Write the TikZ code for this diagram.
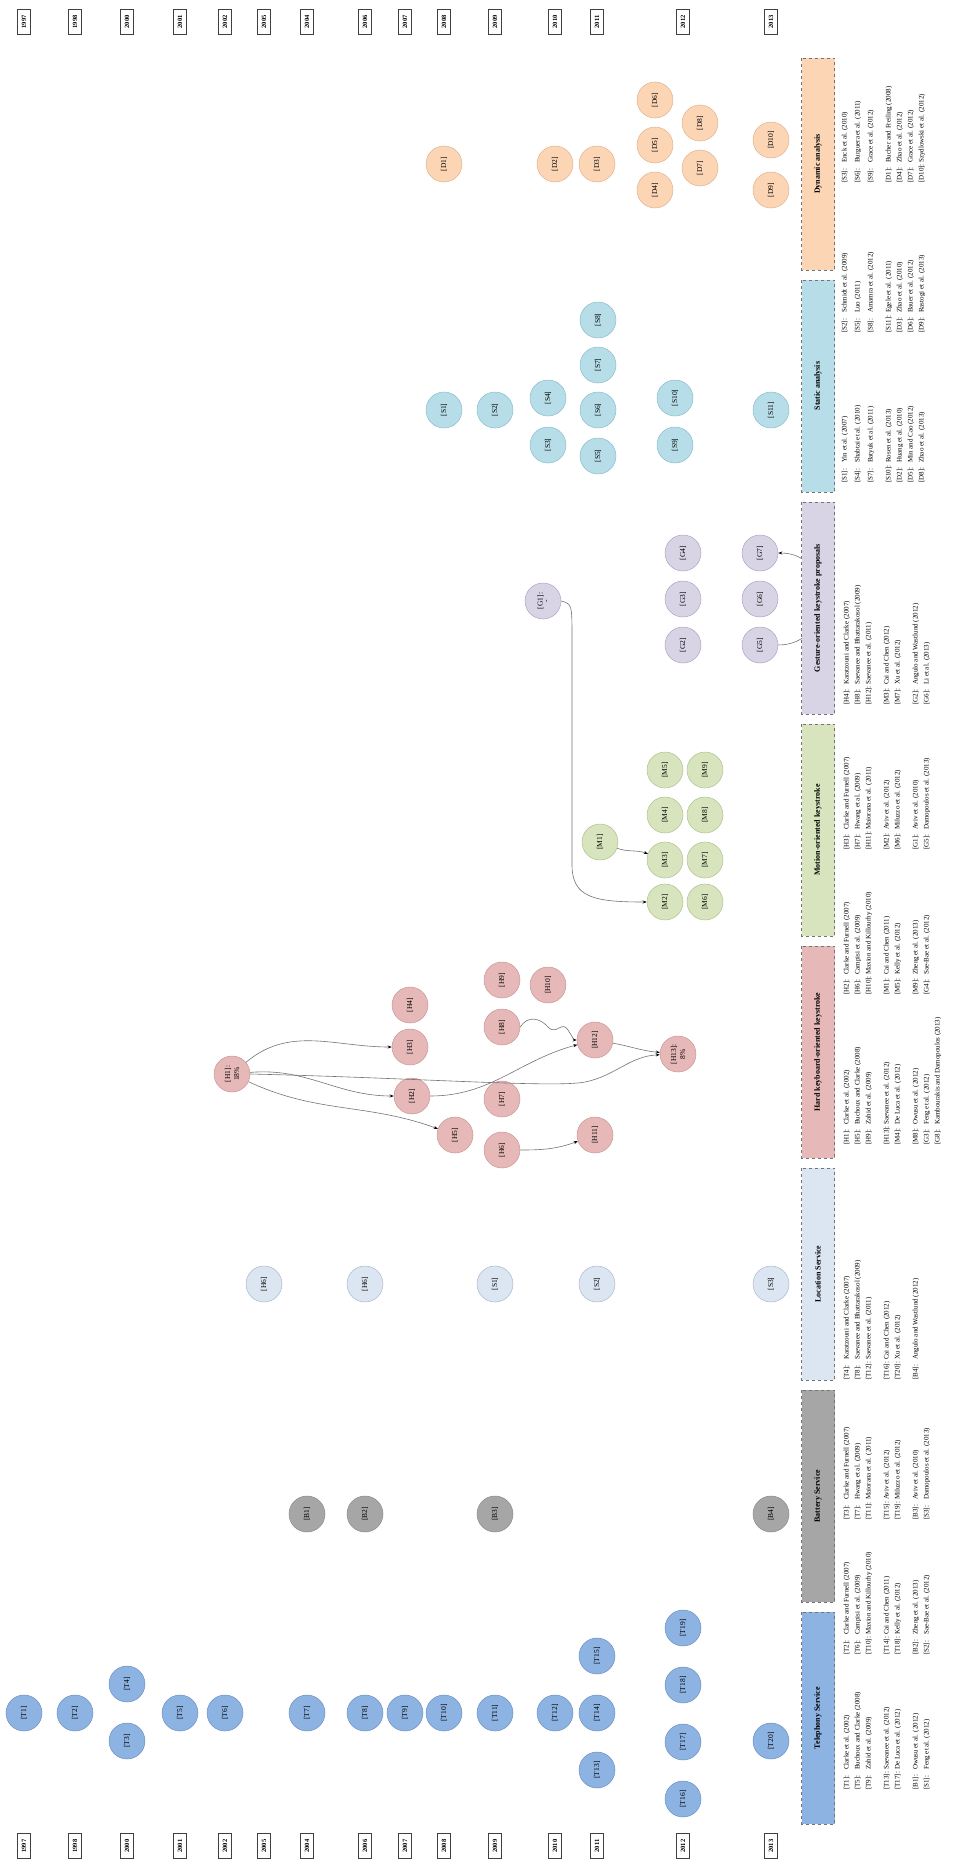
\documentclass[tikz,border=0pt]{standalone}
\usepackage{fontspec}
\setmainfont{Liberation Serif}
\usetikzlibrary{arrows.meta}
\definecolor{telN}{HTML}{8DB3E2}
\definecolor{telD}{HTML}{6D8FC0}
\definecolor{batN}{HTML}{A6A6A6}
\definecolor{batD}{HTML}{8A8A8A}
\definecolor{locN}{HTML}{DCE6F2}
\definecolor{locD}{HTML}{A9B7CC}
\definecolor{hrdN}{HTML}{E6B9B8}
\definecolor{hrdD}{HTML}{C99594}
\definecolor{motN}{HTML}{D7E4BD}
\definecolor{motD}{HTML}{AFC08E}
\definecolor{gesN}{HTML}{D9D3E6}
\definecolor{gesD}{HTML}{ADA3C2}
\definecolor{staN}{HTML}{B7DEE8}
\definecolor{staD}{HTML}{86BCCB}
\definecolor{dynN}{HTML}{FCD5B5}
\definecolor{dynD}{HTML}{DDB290}
\newcommand\vlab[1]{\rotatebox{90}{#1}}
\newcommand\vtwo[2]{\rotatebox{90}{\shortstack{#1\\#2}}}
\newcommand\rl[1]{\makebox[20pt][l]{[#1]:}}
\begin{document}
\begin{tikzpicture}[x=1pt,y=-1pt,
  yearbox/.style={draw=black!75, fill=white, rotate=90, line width=0.6pt,
    font=\fontsize{6.5}{7}\selectfont\bfseries, minimum width=25pt, minimum height=13pt, inner sep=1pt},
  bub/.style={circle, minimum size=36pt, inner sep=0pt, line width=0.5pt,
    font=\fontsize{7.5}{8}\selectfont},
  tn/.style={bub, fill=telN, draw=telD},
  bn/.style={bub, fill=batN, draw=batD},
  ln/.style={bub, fill=locN, draw=locD},
  hn/.style={bub, fill=hrdN, draw=hrdD},
  mn/.style={bub, fill=motN, draw=motD},
  gn/.style={bub, fill=gesN, draw=gesD},
  sn/.style={bub, fill=staN, draw=staD},
  dn/.style={bub, fill=dynN, draw=dynD},
  hdr/.style={rotate=90, draw=black!55, dashed, line width=0.7pt, minimum width=212pt,
    minimum height=33pt, inner sep=0pt, font=\fontsize{8}{9}\selectfont\bfseries},
  ref/.style={rotate=90, anchor=west, inner sep=0pt, font=\fontsize{7}{8}\selectfont},
  edge/.style={draw=black!55, line width=0.6pt, -{Stealth[length=4pt,width=3pt,black]}}
]
\useasboundingbox (0,0) rectangle (968,1868);

% ---- year labels, top and bottom rows
\foreach \yr/\xx in {1997/24,1998/75,2000/127,2001/180,2002/225,2005/264,2004/307,2006/365,
  2007/405,2008/444,2009/495,2010/555,2011/597,2012/683,2013/771}{
  \node[yearbox] (top\yr) at (\xx,22) {\yr};
  \node[yearbox] (bot\yr) at (\xx,1846) {\yr};
}

% ---- telephony service
\node[tn] (T1) at (24,1713) {\vlab{[T1]}};
\node[tn] (T2) at (75,1713) {\vlab{[T2]}};
\node[tn] (T3) at (127,1741) {\vlab{[T3]}};
\node[tn] (T4) at (127,1684) {\vlab{[T4]}};
\node[tn] (T5) at (180,1713) {\vlab{[T5]}};
\node[tn] (T6) at (225,1713) {\vlab{[T6]}};
\node[tn] (T7) at (307,1713) {\vlab{[T7]}};
\node[tn] (T8) at (365,1713) {\vlab{[T8]}};
\node[tn] (T9) at (405,1713) {\vlab{[T9]}};
\node[tn] (T10) at (444,1713) {\vlab{[T10]}};
\node[tn] (T11) at (495,1713) {\vlab{[T11]}};
\node[tn] (T12) at (555,1713) {\vlab{[T12]}};
\node[tn] (T13) at (597,1770) {\vlab{[T13]}};
\node[tn] (T14) at (597,1713) {\vlab{[T14]}};
\node[tn] (T15) at (597,1656) {\vlab{[T15]}};
\node[tn] (T16) at (683,1799) {\vlab{[T16]}};
\node[tn] (T17) at (683,1742) {\vlab{[T17]}};
\node[tn] (T18) at (683,1685) {\vlab{[T18]}};
\node[tn] (T19) at (683,1628) {\vlab{[T19]}};
\node[tn] (T20) at (771,1741) {\vlab{[T20]}};

% ---- battery service
\node[bn] (B1) at (307,1514) {\vlab{[B1]}};
\node[bn] (B2) at (365,1514) {\vlab{[B2]}};
\node[bn] (B3) at (495,1514) {\vlab{[B3]}};
\node[bn] (B4) at (771,1514) {\vlab{[B4]}};

% ---- location service
\node[ln] (L1) at (264,1284) {\vlab{[H6]}};
\node[ln] (L2) at (365,1284) {\vlab{[H6]}};
\node[ln] (L3) at (495,1284) {\vlab{[S1]}};
\node[ln] (L4) at (597,1284) {\vlab{[S2]}};
\node[ln] (L5) at (771,1284) {\vlab{[S3]}};

% ---- hard keyboard-oriented keystroke
\node[hn] (H1) at (232,1074) {\vtwo{[H1]:}{18\%}};
\node[hn] (H2) at (412,1096) {\vlab{[H2]}};
\node[hn] (H3) at (410,1047) {\vlab{[H3]}};
\node[hn] (H4) at (410,1005) {\vlab{[H4]}};
\node[hn] (H5) at (455,1135) {\vlab{[H5]}};
\node[hn] (H6) at (502,1150) {\vlab{[H6]}};
\node[hn] (H7) at (502,1099) {\vlab{[H7]}};
\node[hn] (H8) at (502,1027) {\vlab{[H8]}};
\node[hn] (H9) at (502,980) {\vlab{[H9]}};
\node[hn] (H10) at (548,985) {\vlab{[H10]}};
\node[hn] (H11) at (595,1135) {\vlab{[H11]}};
\node[hn] (H12) at (595,1040) {\vlab{[H12]}};
\node[hn] (H13) at (678,1054) {\vtwo{[H13]:}{8\%}};

% ---- motion-oriented keystroke
\node[mn] (M1) at (600,842) {\vlab{[M1]}};
\node[mn] (M2) at (665,902) {\vlab{[M2]}};
\node[mn] (M3) at (665,860) {\vlab{[M3]}};
\node[mn] (M4) at (665,815) {\vlab{[M4]}};
\node[mn] (M5) at (665,770) {\vlab{[M5]}};
\node[mn] (M6) at (705,902) {\vlab{[M6]}};
\node[mn] (M7) at (705,860) {\vlab{[M7]}};
\node[mn] (M8) at (705,815) {\vlab{[M8]}};
\node[mn] (M9) at (705,770) {\vlab{[M9]}};

% ---- gesture-oriented keystroke proposals
\node[gn] (G1) at (543,601) {\vtwo{[G1]:}{-}};
\node[gn] (G2) at (683,645) {\vlab{[G2]}};
\node[gn] (G3) at (683,599) {\vlab{[G3]}};
\node[gn] (G4) at (683,553) {\vlab{[G4]}};
\node[gn] (G5) at (760,645) {\vlab{[G5]}};
\node[gn] (G6) at (760,599) {\vlab{[G6]}};
\node[gn] (G7) at (760,553) {\vlab{[G7]}};

% ---- static analysis
\node[sn] (S1) at (444,410) {\vlab{[S1]}};
\node[sn] (S2) at (495,410) {\vlab{[S2]}};
\node[sn] (S3) at (548,445) {\vlab{[S3]}};
\node[sn] (S4) at (548,398) {\vlab{[S4]}};
\node[sn] (S5) at (598,456) {\vlab{[S5]}};
\node[sn] (S6) at (598,410) {\vlab{[S6]}};
\node[sn] (S7) at (598,365) {\vlab{[S7]}};
\node[sn] (S8) at (598,320) {\vlab{[S8]}};
\node[sn] (S9) at (675,445) {\vlab{[S9]}};
\node[sn] (S10) at (675,398) {\vlab{[S10]}};
\node[sn] (S11) at (771,410) {\vlab{[S11]}};

% ---- dynamic analysis
\node[dn] (D1) at (444,164) {\vlab{[D1]}};
\node[dn] (D2) at (555,164) {\vlab{[D2]}};
\node[dn] (D3) at (597,164) {\vlab{[D3]}};
\node[dn] (D4) at (655,190) {\vlab{[D4]}};
\node[dn] (D5) at (655,145) {\vlab{[D5]}};
\node[dn] (D6) at (655,100) {\vlab{[D6]}};
\node[dn] (D7) at (700,168) {\vlab{[D7]}};
\node[dn] (D8) at (700,123) {\vlab{[D8]}};
\node[dn] (D9) at (771,190) {\vlab{[D9]}};
\node[dn] (D10) at (771,140) {\vlab{[D10]}};

% ---- citation links
\draw[edge] (H1) to[out=40,in=180] (H3);
\draw[edge] (H1) to[out=5,in=180] (H2);
\draw[edge] (H1) to[out=-25,in=160] (H5);
\draw[edge] (H1.east) .. controls (420,1078) and (555,1088) .. (585,1082)
  .. controls (615,1076) and (630,1056) .. (H13);
\draw[edge] (H2) to[out=0,in=195] (H12);
\draw[edge] (H8.east) .. controls (528,1015) and (540,1018) .. (548,1027)
  .. controls (556,1036) and (562,1020) .. (568,1030) .. controls (572,1036) and (574,1040) .. (H12.west);
\draw[edge] (H12) to[out=-10,in=175] (H13);
\draw[edge] (H6) to[out=0,in=200] (H11);
\draw[edge] (M1) to[out=-20,in=160] (M3);
\draw[edge] (G1.east) .. controls (572,604) .. (572,640) -- (572,865)
  .. controls (572,898) and (595,902) .. (M2.west);
\draw[edge] (G5) to[out=0,in=0,looseness=1.6] (G7);

% ---- category headers
\node[hdr, fill=telN] (hTel) at (818,1718) {Telephony Service};
\node[hdr, fill=batN] (hBat) at (818,1496) {Battery Service};
\node[hdr, fill=locN] (hLoc) at (818,1274) {Location Service};
\node[hdr, fill=hrdN] (hHrd) at (818,1052) {Hard keyboard-oriented keystroke};
\node[hdr, fill=motN] (hMot) at (818,830) {Motion-oriented keystroke};
\node[hdr, fill=gesN] (hGes) at (818,608) {Gesture-oriented keystroke proposals};
\node[hdr, fill=staN] (hSta) at (818,386) {Static analysis};
\node[hdr, fill=dynN] (hDyn) at (818,164) {Dynamic analysis};

% ---- reference table under the service headers
\node[ref] (rT1) at (847,1790) {\rl{T1}Clarke et al. (2002)};
\node[ref] (rT5) at (858,1790) {\rl{T5}Buchoux and Clarke (2008)};
\node[ref] (rT9) at (869,1790) {\rl{T9}Zahid et al. (2009)};
\node[ref] (rT13) at (887,1790) {\rl{T13}Saevanee et al. (2012)};
\node[ref] (rT17) at (898,1790) {\rl{T17}De Luca et al. (2012)};
\node[ref] (rB1) at (916,1790) {\rl{B1}Owusu et al. (2012)};
\node[ref] (rS1) at (927,1790) {\rl{S1}Feng et al. (2012)};
\node[ref] (rT2) at (847,1655) {\rl{T2}Clarke and Furnell (2007)};
\node[ref] (rT6) at (858,1655) {\rl{T6}Campisi et al. (2009)};
\node[ref] (rT10) at (869,1655) {\rl{T10}Maxion and Killourhy (2010)};
\node[ref] (rT14) at (887,1655) {\rl{T14}Cai and Chen (2011)};
\node[ref] (rT18) at (898,1655) {\rl{T18}Kelly et al. (2012)};
\node[ref] (rB2) at (916,1655) {\rl{B2}Zheng et al. (2013)};
\node[ref] (rS2) at (927,1655) {\rl{S2}Sae-Bae et al. (2012)};
\node[ref] (rT3) at (847,1520) {\rl{T3}Clarke and Furnell (2007)};
\node[ref] (rT7) at (858,1520) {\rl{T7}Hwang et al. (2009)};
\node[ref] (rT11) at (869,1520) {\rl{T11}Maiorana et al. (2011)};
\node[ref] (rT15) at (887,1520) {\rl{T15}Aviv et al. (2012)};
\node[ref] (rT19) at (898,1520) {\rl{T19}Miluzzo et al. (2012)};
\node[ref] (rB3) at (916,1520) {\rl{B3}Aviv et al. (2010)};
\node[ref] (rS3) at (927,1520) {\rl{S3}Damopoulos et al. (2013)};
\node[ref] (rT4) at (847,1380) {\rl{T4}Karatzouni and Clarke (2007)};
\node[ref] (rT8) at (858,1380) {\rl{T8}Saevanee and Bhattarakosol (2009)};
\node[ref] (rT12) at (869,1380) {\rl{T12}Saevanee et al. (2011)};
\node[ref] (rT16) at (887,1380) {\rl{T16}Cai and Chen (2012)};
\node[ref] (rT20) at (898,1380) {\rl{T20}Xu et al. (2012)};
\node[ref] (rB4) at (916,1380) {\rl{B4}Angulo and Wastlund (2012)};

% ---- reference table under the keystroke headers
\node[ref] (rH1) at (847,1145) {\rl{H1}Clarke et al. (2002)};
\node[ref] (rH5) at (858,1145) {\rl{H5}Buchoux and Clarke (2008)};
\node[ref] (rH9) at (869,1145) {\rl{H9}Zahid et al. (2009)};
\node[ref] (rH13) at (887,1145) {\rl{H13}Saevanee et al. (2012)};
\node[ref] (rM4) at (898,1145) {\rl{M4}De Luca et al. (2012)};
\node[ref] (rM8) at (916,1145) {\rl{M8}Owusu et al. (2012)};
\node[ref] (rG3) at (927,1145) {\rl{G3}Feng et al. (2012)};
\node[ref] (rG8) at (938,1145) {\rl{G8}Kambourakis and Damopoulos (2013)};
\node[ref] (rH2) at (847,995) {\rl{H2}Clarke and Furnell (2007)};
\node[ref] (rH6) at (858,995) {\rl{H6}Campisi et al. (2009)};
\node[ref] (rH10) at (869,995) {\rl{H10}Maxion and Killourhy (2010)};
\node[ref] (rM1) at (887,995) {\rl{M1}Cai and Chen (2011)};
\node[ref] (rM5) at (898,995) {\rl{M5}Kelly et al. (2012)};
\node[ref] (rM9) at (916,995) {\rl{M9}Zheng et al. (2013)};
\node[ref] (rG4) at (927,995) {\rl{G4}Sae-Bae et al. (2012)};
\node[ref] (rH3) at (847,850) {\rl{H3}Clarke and Furnell (2007)};
\node[ref] (rH7) at (858,850) {\rl{H7}Hwang et al. (2009)};
\node[ref] (rH11) at (869,850) {\rl{H11}Maiorana et al. (2011)};
\node[ref] (rM2) at (887,850) {\rl{M2}Aviv et al. (2012)};
\node[ref] (rM6) at (898,850) {\rl{M6}Miluzzo et al. (2012)};
\node[ref] (rG1) at (916,850) {\rl{G1}Aviv et al. (2010)};
\node[ref] (rG5) at (927,850) {\rl{G5}Damopoulos et al. (2013)};
\node[ref] (rH4) at (847,705) {\rl{H4}Karatzouni and Clarke (2007)};
\node[ref] (rH8) at (858,705) {\rl{H8}Saevanee and Bhattarakosol (2009)};
\node[ref] (rH12) at (869,705) {\rl{H12}Saevanee et al. (2011)};
\node[ref] (rM3) at (887,705) {\rl{M3}Cai and Chen (2012)};
\node[ref] (rM7) at (898,705) {\rl{M7}Xu et al. (2012)};
\node[ref] (rG2) at (916,705) {\rl{G2}Angulo and Wastlund (2012)};
\node[ref] (rG6) at (927,705) {\rl{G6}Li et al. (2013)};

% ---- reference table under the analysis headers
\node[ref] (rS1b) at (845,483) {\rl{S1}Yin et al. (2007)};
\node[ref] (rS4) at (858,483) {\rl{S4}Shabtai et al. (2010)};
\node[ref] (rS7) at (871,483) {\rl{S7}Batyuk et al. (2011)};
\node[ref] (rS10) at (889,483) {\rl{S10}Rosen et al. (2013)};
\node[ref] (rD2) at (900,483) {\rl{D2}Huang et al. (2010)};
\node[ref] (rD5) at (911,483) {\rl{D5}Min and Cao (2012)};
\node[ref] (rD8) at (922,483) {\rl{D8}Zhao et al. (2013)};
\node[ref] (rS2b) at (845,333) {\rl{S2}Schmidt et al. (2009)};
\node[ref] (rS5) at (858,333) {\rl{S5}Luo (2011)};
\node[ref] (rS8) at (871,333) {\rl{S8}Amamra et al. (2012)};
\node[ref] (rS11) at (889,333) {\rl{S11}Egele et al. (2011)};
\node[ref] (rD3) at (900,333) {\rl{D3}Zhao et al. (2010)};
\node[ref] (rD6) at (911,333) {\rl{D6}Bauer et al. (2012)};
\node[ref] (rD9) at (922,333) {\rl{D9}Rastogi et al. (2013)};
\node[ref] (rS3b) at (845,183) {\rl{S3}Enck et al. (2010)};
\node[ref] (rS6) at (858,183) {\rl{S6}Burguera et al. (2011)};
\node[ref] (rS9) at (871,183) {\rl{S9}Grace et al. (2012)};
\node[ref] (rD1) at (889,183) {\rl{D1}Bucher and Freiling (2008)};
\node[ref] (rD4) at (900,183) {\rl{D4}Zhao et al. (2012)};
\node[ref] (rD7) at (911,183) {\rl{D7}Grace et al. (2012)};
\node[ref] (rD10) at (922,183) {\rl{D10}Szydlowski et al. (2012)};
\end{tikzpicture}
\end{document}
